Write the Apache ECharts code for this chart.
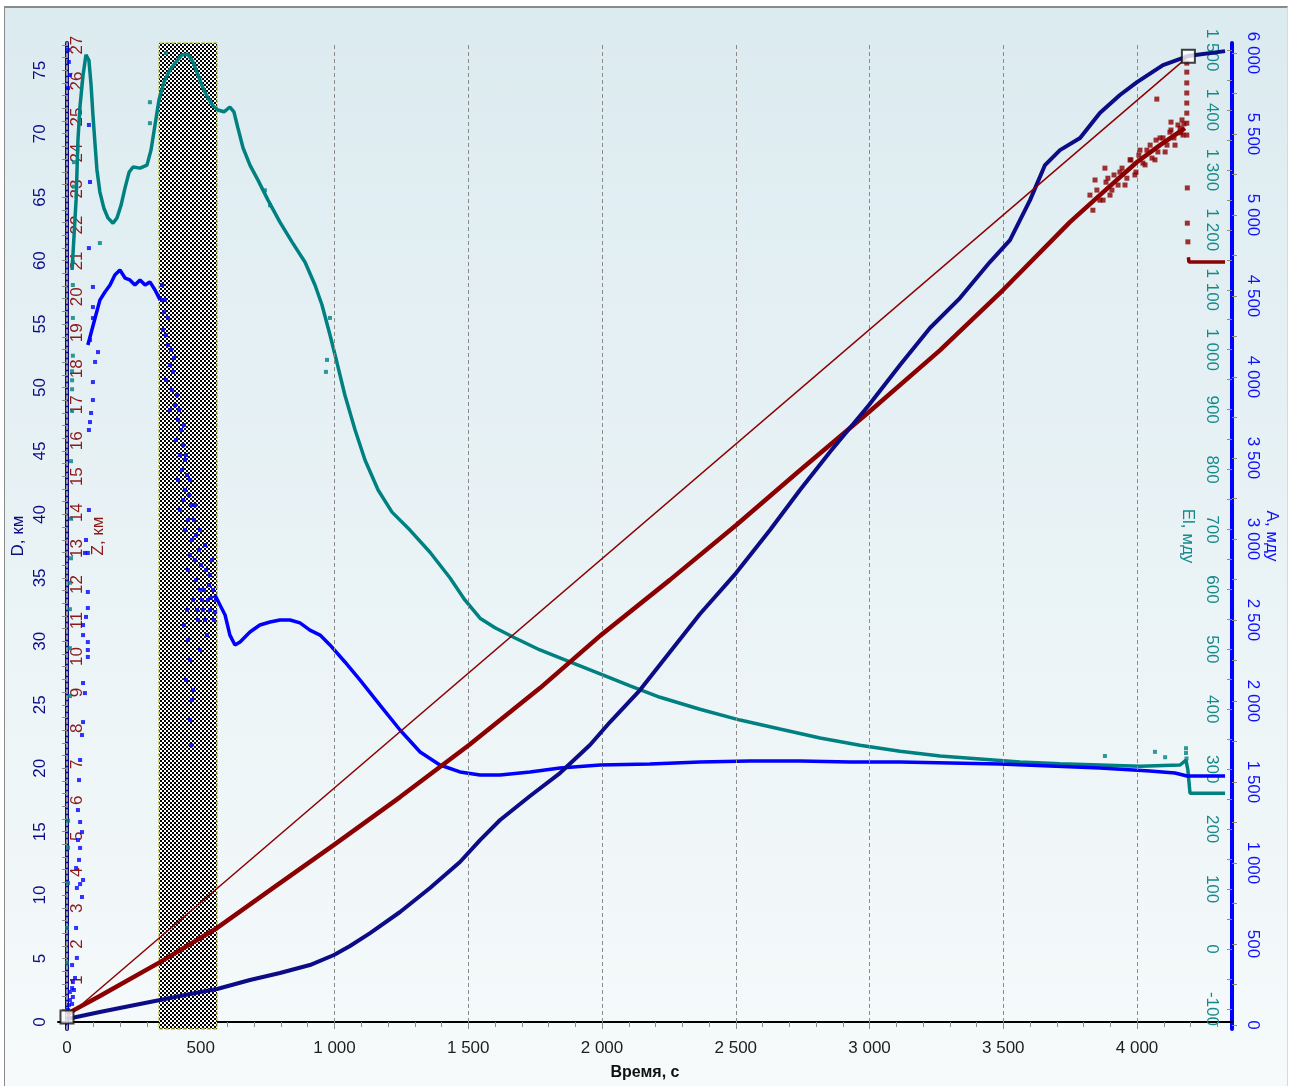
<!DOCTYPE html>
<html>
<head>
<meta charset="utf-8">
<script src="https://cdn.jsdelivr.net/npm/echarts@6/dist/echarts.min.js"></script>
<style>
  html, body { margin: 0; padding: 0; background: #ffffff; }
  #panel {
    position: absolute; left: 4px; top: 6px; width: 1282px; height: 1080px;
    border-left: 1px solid #8a8a8a; border-top: 2px solid #8a8a8a; border-right: 1px solid #d4dadd;
    background: linear-gradient(#dcebf0, #f6fafb);
  }
  #chart { position: absolute; left: 0; top: 0; width: 1293px; height: 1086px; }
</style>
</head>
<body>
<div id="panel"></div>
<div id="chart"></div>
<script>
// ---- flight record: time in seconds ----
// D, km (horizontal distance)
const distanceKm = [[0,0.24],[123,0.79],[235,1.26],[348,1.73],[460,2.21],[561,2.60],[684,3.31],[796,3.86],[908,4.49],[998,5.28],[1058,5.99],[1133,7.01],[1245,8.67],[1357,10.56],[1469,12.61],[1544,14.34],[1619,15.92],[1731,17.81],[1843,19.62],[1955,21.83],[2030,23.64],[2142,26.16],[2254,29.16],[2366,32.15],[2501,35.38],[2628,38.77],[2740,41.92],[2852,44.92],[2998,48.62],[3114,51.77],[3226,54.69],[3338,57.05],[3450,59.89],[3525,61.62],[3600,64.77],[3656,67.53],[3712,68.71],[3787,69.66],[3861,71.63],[3936,73.05],[4000,74.07],[4097,75.41],[4190,76.12],[4329,76.51]];

// Z, km (altitude)
const altitudeKm = [[0,0.06],[123,0.56],[348,1.50],[561,2.45],[759,3.50],[998,4.76],[1245,6.09],[1503,7.54],[1768,9.12],[2000,10.62],[2254,12.13],[2501,13.65],[2740,15.18],[2998,16.80],[3264,18.52],[3499,20.19],[3749,22.08],[3861,22.83],[4000,23.75],[4086,24.22],[4179,24.69]];
const altitudeTailKm = [[4192,21.10],[4194,20.97],[4329,20.97]];
const altitudeDotsKm = [[3880,23.58],[4074,25.50],[4127,24.86],[4168,24.92],[3843,23.25],[3861,22.69],[3891,23.30],[3906,22.97],[3936,23.47],[3955,23.11],[3974,23.81],[3992,23.39],[4011,24.08],[4030,23.67],[4049,24.22],[4067,23.81],[4086,24.42],[4105,24.03],[4123,24.58],[4142,24.22],[4161,24.69],[4172,24.50],
  [3824,22.83],[3835,22.41],[3850,22.97],[3873,22.69],[3884,23.19],[3899,22.83],[3914,23.39],[3929,23.11],[3944,23.58],[3962,23.30],[3977,23.81],[3996,23.47],[4007,23.94],[4022,23.72],[4037,24.08],[4056,23.86],[4071,24.36],[4078,24.03],[4097,24.42],[4112,24.22],[4127,24.64],[4138,24.42],[4153,24.78],[4164,24.56],[4175,24.81],
  [4186,26.50],[4186,26.25],[4186,25.95],[4186,25.67],[4186,25.39],[4186,25.11],[4186,24.83],[4186,24.50],[4188,23.03],[4188,22.05],[4190,21.53]];

// El, мду (elevation angle)
const elevationMdu = [[19,1133],[34,1250],[41,1350],[49,1408],[60,1458],[71,1492],[82,1483],[90,1442],[97,1392],[105,1342],[112,1300],[123,1263],[138,1236],[153,1220],[172,1211],[187,1220],[202,1241],[217,1270],[232,1296],[247,1305],[273,1303],[299,1308],[314,1333],[329,1375],[344,1417],[363,1447],[385,1467],[407,1480],[430,1492],[452,1493],[471,1480],[490,1458],[508,1437],[527,1420],[546,1407],[564,1400],[587,1397],[609,1405],[624,1397],[639,1370],[658,1337],[684,1308],[714,1283],[751,1250],[796,1213],[841,1180],[890,1146],[927,1108],[953,1075],[983,1025],[1009,979],[1039,924],[1077,866],[1114,816],[1163,766],[1215,729],[1282,699],[1357,662],[1432,619],[1488,582],[1544,552],[1600,536],[1675,519],[1768,499],[1880,479],[1993,459],[2105,439],[2217,420],[2366,400],[2516,382],[2665,367],[2815,352],[2964,340],[3114,330],[3264,322],[3413,317],[3563,312],[3712,309],[3861,307],[4011,305],[4161,307],[4183,315],[4190,299],[4198,260],[4329,260]];
const elevationDotsMdu = [[0,-23],[0,35],[4,110],[4,169],[4,214],[11,422],[11,502],[11,567],[11,611],[15,652],[15,718],[15,814],[19,898],[19,934],[19,949],[19,964],[22,990],[22,1053],[22,1108],[22,1146],[26,1272],[26,1313],[123,1178],[310,1413],[310,1378],[370,1495],[740,1266],[759,1241],[983,1053],[968,963],[972,983],[4183,335],[4183,327],[4185,318],[3880,322],[4067,329],[4105,320]];

// A, мду (azimuth)
const azimuthEarlyMdu = [[78,4198],[93,4290],[108,4383],[123,4475],[142,4525],[161,4568],[179,4630],[198,4661],[217,4611],[235,4599],[254,4568],[273,4599],[292,4568],[310,4587],[329,4537],[348,4475]];
const azimuthMdu = [[553,2654],[572,2593],[591,2531],[609,2407],[628,2346],[647,2364],[684,2426],[721,2469],[759,2488],[796,2500],[834,2500],[871,2482],[908,2438],[946,2407],[983,2346],[1039,2241],[1095,2130],[1170,1975],[1245,1821],[1320,1685],[1394,1605],[1469,1562],[1544,1543],[1619,1543],[1731,1562],[1843,1586],[1993,1605],[2179,1611],[2366,1623],[2553,1630],[2740,1630],[2927,1623],[3114,1623],[3301,1617],[3488,1611],[3674,1599],[3861,1586],[4048,1568],[4142,1556],[4187,1537],[4329,1537]];
const azimuthDotsMdu = [[4,6019],[7,5945],[11,5864],[4,5784],[82,5556],[86,5204],[82,4796],[97,4556],[97,4432],[97,4364],[86,4229],[116,4154],[105,4093],[97,3969],[97,3858],[90,3778],[86,3722],[82,3673],[82,3179],[71,2994],[67,2914],[78,2914],[78,2673],[78,2574],[71,2519],[60,2469],[60,2407],[78,2364],[78,2315],[78,2272],[60,2111],[67,2049],[60,1870],[56,1790],[49,1636],[45,1512],[41,1327],[49,1253],[56,1191],[41,1142],[49,1093],[45,1019],[34,969],[60,895],[49,870],[37,846],[56,790],[34,599],[37,414],[19,370],[30,290],[22,265],[19,228],[11,204],[22,173],[11,154],[19,130],[26,216],[4,93],[7,123],
  [355,4568],[366,4475],[359,4290],[378,4198],[385,4074],[370,3982],[392,3920],[404,3827],[385,3796],[415,3735],[407,3611],[422,3519],[430,3426],[415,3364],[441,3303],[434,3241],[422,3179],[452,3117],[441,3056],[467,2994],[460,2901],[478,2870],[452,2809],[482,2747],[497,2685],[471,2624],[508,2562],[490,2500],[527,2624],[535,2778],[542,2870],[516,2963],[497,3056],[478,3210],[460,3364],[441,3488],[452,2377],[460,2253],[445,2130],[467,2006],[460,1883],[464,1728],[437,2469],[449,2562],[516,2500],[535,2562],[553,2549],[497,2315],[471,2068],
  [355,4475],[363,4401],[370,4259],[378,4364],[389,4167],[396,4031],[400,4117],[411,3889],[419,3796],[426,3673],[434,3580],[437,3704],[445,3519],[449,3395],[456,3272],[464,3210],[475,3117],[482,3025],[493,2932],[501,2840],[512,2685],[520,2809],[531,2716],[538,2636],[546,2685],[557,2624],[549,2500],[523,2407],[505,2624],[486,2562]];

// launch and burst points (D, km) joined by a straight chord
const endPointsKm = [[0,0.4],[4192,76.1]];

// shaded interval, s
const shadedInterval = [344, 561];
// vertical guide lines, s
const guideTimes = [1000, 1500, 2000, 2500, 3000, 3500, 4000];

// tick and label values
const timeLabels = [0,500,1000,1500,2000,2500,3000,3500,4000];
const timeTicks = [0,100,200,300,400,500,600,700,800,900,1000,1100,1200,1300,1400,1500,1600,1700,1800,1900,2000,2100,2200,2300,2400,2500,2600,2700,2800,2900,3000,3100,3200,3300,3400,3500,3600,3700,3800,3900,4000,4100,4200,4300];
const dLabels = [0,5,10,15,20,25,30,35,40,45,50,55,60,65,70,75];
const dTicks = [0,1,2,3,4,5,6,7,8,9,10,11,12,13,14,15,16,17,18,19,20,21,22,23,24,25,26,27,28,29,30,31,32,33,34,35,36,37,38,39,40,41,42,43,44,45,46,47,48,49,50,51,52,53,54,55,56,57,58,59,60,61,62,63,64,65,66,67,68,69,70,71,72,73,74,75,76,77];
const zLabels = [1,2,3,4,5,6,7,8,9,10,11,12,13,14,15,16,17,18,19,20,21,22,23,24,25,26,27];
const elLabels = [-100,0,100,200,300,400,500,600,700,800,900,1000,1100,1200,1300,1400,1500];
const elTicks = [-100,-50,0,50,100,150,200,250,300,350,400,450,500,550,600,650,700,750,800,850,900,950,1000,1050,1100,1150,1200,1250,1300,1350,1400,1450,1500];
const aLabels = [0,500,1000,1500,2000,2500,3000,3500,4000,4500,5000,5500,6000];
const aTicks = [0,250,500,750,1000,1250,1500,1750,2000,2250,2500,2750,3000,3250,3500,3750,4000,4250,4500,4750,5000,5250,5500,5750,6000];

const FONT = '"Liberation Sans", Arial, sans-serif';
const C_D = '#0c0c86', C_Z = '#8b0000', C_EL = '#008080', C_A = '#0000ff';

function fmt(v) {
  const s = Math.abs(v);
  const txt = s >= 1000 ? Math.floor(s / 1000) + ' ' + String(s % 1000).padStart(3, '0') : String(s);
  return (v < 0 ? '-' : '') + txt;
}

// checkered fill for the shaded interval
const hatch = document.createElement('canvas');
hatch.width = 4; hatch.height = 4;
(function () {
  const g = hatch.getContext('2d');
  g.fillStyle = '#ffffff'; g.fillRect(0, 0, 4, 4);
  g.fillStyle = '#000000';
  g.fillRect(0, 0, 2, 2); g.fillRect(2, 2, 2, 2);
})();

const tickStyle = { color: '#8c8c8c', width: 1 };

const chart = echarts.init(document.getElementById('chart'), null, { renderer: 'canvas' });
chart.setOption({
  animation: false,
  backgroundColor: 'transparent',
  grid: { left: 58, right: 61, top: 43, bottom: 57, containLabel: false },
  xAxis: {
    type: 'value', min: -33.6, max: 4355,
    axisLine: { lineStyle: { color: '#000000', width: 2 } },
    axisTick: { customValues: timeTicks, length: 5, lineStyle: tickStyle },
    axisLabel: { customValues: timeLabels, formatter: fmt, color: '#1e1e1e', fontSize: 17, fontFamily: FONT, margin: 11 },
    splitLine: { show: false },
    name: 'Время, с', nameLocation: 'middle', nameGap: 36, nameMoveOverlap: false,
    nameTextStyle: { fontWeight: 'bold', fontSize: 16, color: '#111111', fontFamily: FONT }
  },
  yAxis: [
    { // D
      type: 'value', position: 'left', offset: 0, min: -0.55, max: 77.15,
      axisLine: { show: true, lineStyle: { color: C_D, width: 4 } },
      axisTick: { customValues: dTicks, length: 5, lineStyle: tickStyle },
      axisLabel: { customValues: dLabels, rotate: 90, color: C_D, fontSize: 17, fontFamily: FONT, margin: 9 },
      splitLine: { show: false },
      name: 'D, км', nameLocation: 'middle', nameGap: 31, nameRotate: 90, nameMoveOverlap: false,
      nameTextStyle: { color: C_D, fontSize: 17, fontFamily: FONT }
    },
    { // Z
      type: 'value', position: 'left', offset: -9, min: -0.36, max: 27.06,
      axisLine: { show: true, lineStyle: { color: '#9a9a9a', width: 2, type: [3, 3] } },
      axisTick: { show: false },
      axisLabel: { customValues: zLabels, inside: true, rotate: 90, color: '#8b1a1a', fontSize: 17, fontFamily: FONT, margin: 2 },
      splitLine: { show: false },
      name: 'Z, км', nameLocation: 'middle', nameGap: -40, nameRotate: 90, nameMoveOverlap: false,
      nameTextStyle: { color: '#8b1a1a', fontSize: 17, fontFamily: FONT }
    },
    { // El
      type: 'value', position: 'right', offset: 0, min: -133.5, max: 1511.8,
      axisLine: { show: false },
      axisTick: { customValues: elTicks, inside: true, length: 5, lineStyle: tickStyle },
      axisLabel: { customValues: elLabels, formatter: fmt, inside: true, rotate: -90, color: '#168a8a', fontSize: 17, fontFamily: FONT, margin: 12 },
      splitLine: { show: false },
      name: 'El, мду', nameLocation: 'middle', nameGap: -53, nameRotate: -90, nameMoveOverlap: false,
      nameTextStyle: { color: '#168a8a', fontSize: 17, fontFamily: FONT }
    },
    { // A
      type: 'value', position: 'right', offset: 0, min: -24.7, max: 6062,
      axisLine: { show: true, lineStyle: { color: C_A, width: 4 } },
      axisTick: { customValues: aTicks, length: 5, lineStyle: tickStyle },
      axisLabel: { customValues: aLabels, formatter: fmt, rotate: -90, color: '#1010ff', fontSize: 17, fontFamily: FONT, margin: 12 },
      splitLine: { show: false },
      name: 'A, мду', nameLocation: 'middle', nameGap: 31, nameRotate: -90, nameMoveOverlap: false,
      nameTextStyle: { color: '#1010ff', fontSize: 17, fontFamily: FONT }
    }
  ],
  series: [
    { // shaded interval and time guides
      type: 'line', data: [], xAxisIndex: 0, yAxisIndex: 0, z: 1, silent: true,
      markArea: {
        silent: true,
        itemStyle: { color: { image: hatch, repeat: 'repeat' }, borderColor: '#b4b400', borderWidth: 1, borderType: 'dashed' },
        data: [[{ xAxis: shadedInterval[0], yAxis: -0.55 }, { xAxis: shadedInterval[1], yAxis: 77.15 }]]
      },
      markLine: {
        silent: true, symbol: ['none', 'none'], label: { show: false },
        lineStyle: { color: '#8a8a8a', width: 1, type: [4, 3] },
        data: guideTimes.map(t => ({ xAxis: t }))
      }
    },
    { name: 'El', type: 'line', yAxisIndex: 2, data: elevationMdu, showSymbol: false, z: 3,
      lineStyle: { color: C_EL, width: 3.5 } },
    { name: 'El dots', type: 'scatter', yAxisIndex: 2, data: elevationDotsMdu, symbol: 'rect', symbolSize: 4, z: 3,
      itemStyle: { color: C_EL } },
    { name: 'A', type: 'line', yAxisIndex: 3, data: azimuthEarlyMdu, showSymbol: false, z: 4,
      lineStyle: { color: C_A, width: 3.5 } },
    { name: 'A', type: 'line', yAxisIndex: 3, data: azimuthMdu, showSymbol: false, z: 4,
      lineStyle: { color: C_A, width: 3.5 } },
    { name: 'A dots', type: 'scatter', yAxisIndex: 3, data: azimuthDotsMdu, symbol: 'rect', symbolSize: 4, z: 4,
      itemStyle: { color: C_A } },
    { name: 'Z', type: 'line', yAxisIndex: 1, data: altitudeKm, showSymbol: false, z: 5,
      lineStyle: { color: C_Z, width: 4.5 } },
    { name: 'Z tail', type: 'line', yAxisIndex: 1, data: altitudeTailKm, showSymbol: false, z: 5,
      lineStyle: { color: C_Z, width: 3.5 } },
    { name: 'Z dots', type: 'scatter', yAxisIndex: 1, data: altitudeDotsKm, symbol: 'rect', symbolSize: 5, z: 5,
      itemStyle: { color: C_Z } },
    { name: 'D', type: 'line', yAxisIndex: 0, data: distanceKm, showSymbol: false, z: 6,
      lineStyle: { color: C_D, width: 4 } },
    { name: 'chord', type: 'line', yAxisIndex: 0, data: endPointsKm, showSymbol: false, z: 7,
      lineStyle: { color: C_Z, width: 1.5 } },
    { name: 'ends', type: 'scatter', yAxisIndex: 0, data: endPointsKm, symbol: 'rect', symbolSize: 13, z: 8,
      itemStyle: { color: '#ffffff', borderColor: '#111111', borderWidth: 2 } }
  ]
});
</script>
</body>
</html>
